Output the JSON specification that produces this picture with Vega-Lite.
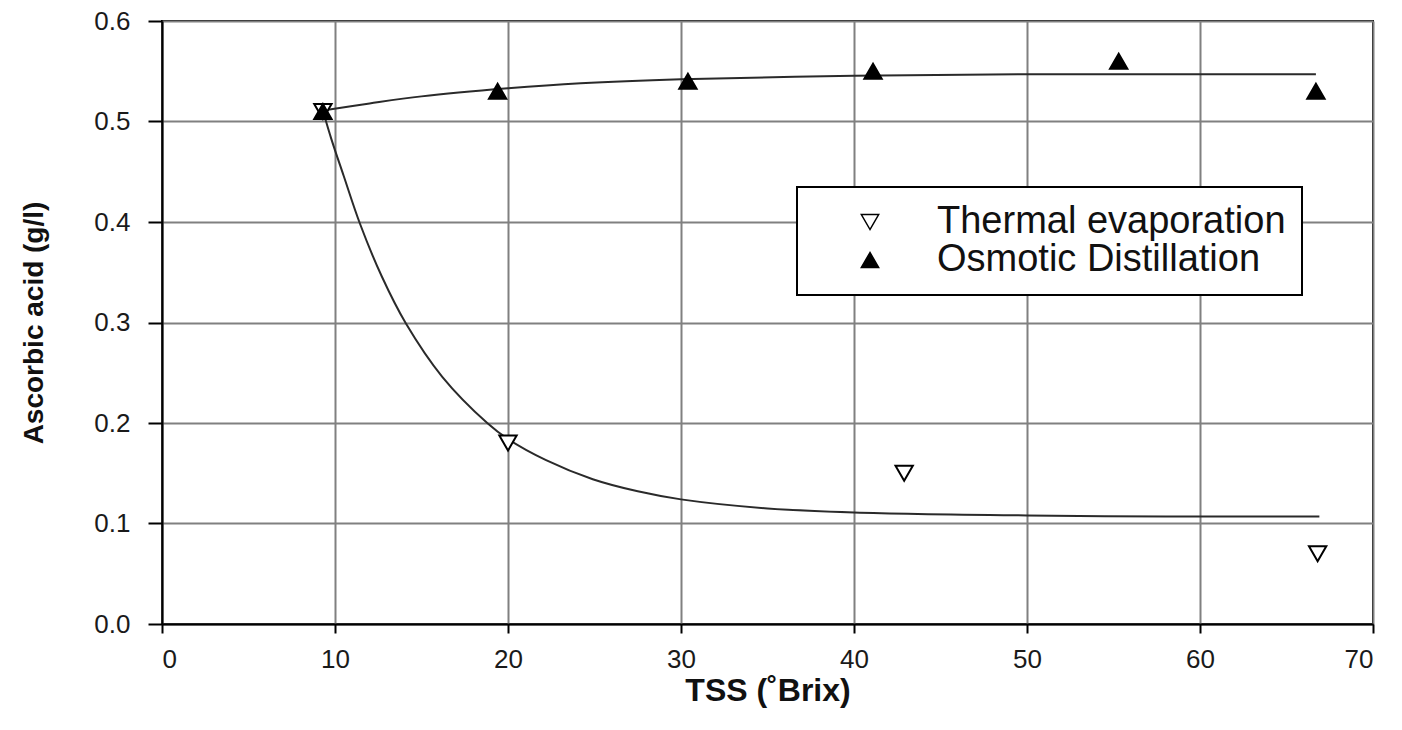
{
  "$schema": "https://vega.github.io/schema/vega-lite/v6.json",
  "width": 1211,
  "height": 603,
  "autosize": {"type": "none"},
  "padding": {"left": 162, "top": 21, "right": 29, "bottom": 106},
  "background": "white",
  "config": {
    "font": "Liberation Sans",
    "view": {"stroke": "black", "strokeWidth": 2},
    "legend": {"strokeWidth": 2},
    "axis": {
      "grid": true,
      "gridColor": "#808080",
      "gridWidth": 2,
      "gridOpacity": 1,
      "domainColor": "black",
      "domainWidth": 2,
      "tickColor": "black",
      "tickWidth": 2,
      "labelFont": "Liberation Sans",
      "labelFontSize": 26,
      "labelColor": "#1a1a1a",
      "titleFont": "Liberation Sans",
      "titleFontWeight": "bold",
      "titleColor": "#111111"
    }
  },
  "layer": [
    {
      "data": {
        "values": [
          {"series": "Thermal evaporation", "tss": 9.3, "aa": 0.511},
          {"series": "Thermal evaporation", "tss": 9.8, "aa": 0.482},
          {"series": "Thermal evaporation", "tss": 10.5, "aa": 0.446},
          {"series": "Thermal evaporation", "tss": 11.45, "aa": 0.398},
          {"series": "Thermal evaporation", "tss": 12.7, "aa": 0.346},
          {"series": "Thermal evaporation", "tss": 14.1, "aa": 0.299},
          {"series": "Thermal evaporation", "tss": 16.2, "aa": 0.246},
          {"series": "Thermal evaporation", "tss": 18.8, "aa": 0.2},
          {"series": "Thermal evaporation", "tss": 20, "aa": 0.184},
          {"series": "Thermal evaporation", "tss": 22.2, "aa": 0.163},
          {"series": "Thermal evaporation", "tss": 24.9, "aa": 0.144},
          {"series": "Thermal evaporation", "tss": 27.5, "aa": 0.132},
          {"series": "Thermal evaporation", "tss": 30, "aa": 0.124},
          {"series": "Thermal evaporation", "tss": 35, "aa": 0.115},
          {"series": "Thermal evaporation", "tss": 40, "aa": 0.111},
          {"series": "Thermal evaporation", "tss": 50, "aa": 0.108},
          {"series": "Thermal evaporation", "tss": 58, "aa": 0.107},
          {"series": "Thermal evaporation", "tss": 66.9, "aa": 0.107},
          {"series": "Osmotic Distillation", "tss": 9.3, "aa": 0.511},
          {"series": "Osmotic Distillation", "tss": 12, "aa": 0.518},
          {"series": "Osmotic Distillation", "tss": 15, "aa": 0.525},
          {"series": "Osmotic Distillation", "tss": 20, "aa": 0.533},
          {"series": "Osmotic Distillation", "tss": 24.2, "aa": 0.538},
          {"series": "Osmotic Distillation", "tss": 30, "aa": 0.542},
          {"series": "Osmotic Distillation", "tss": 40, "aa": 0.5455},
          {"series": "Osmotic Distillation", "tss": 50, "aa": 0.547},
          {"series": "Osmotic Distillation", "tss": 60, "aa": 0.547},
          {"series": "Osmotic Distillation", "tss": 66.7, "aa": 0.547}
        ]
      },
      "mark": {"type": "line", "interpolate": "catmull-rom", "color": "#2a2a2a", "strokeWidth": 2},
      "encoding": {
        "x": {
          "field": "tss", "type": "quantitative",
          "scale": {"domain": [0, 70], "nice": false, "zero": false},
          "axis": {
            "values": [0, 10, 20, 30, 40, 50, 60, 70],
            "format": "d",
            "tickSize": 9,
            "labelPadding": 13,
            "title": "TSS (˚Brix)",
            "titleFontSize": 32,
            "titlePadding": 3
          }
        },
        "y": {
          "field": "aa", "type": "quantitative",
          "scale": {"domain": [0, 0.6], "nice": false, "zero": false},
          "axis": {
            "values": [0, 0.1, 0.2, 0.3, 0.4, 0.5, 0.6],
            "format": ".1f",
            "tickSize": 14,
            "labelPadding": 18,
            "title": "Ascorbic acid (g/l)",
            "titleFontSize": 28,
            "titlePadding": 45
          }
        },
        "detail": {"field": "series"}
      }
    },
    {
      "data": {
        "values": [
          {"series": "Thermal evaporation", "tss": 9.3, "aa": 0.51},
          {"series": "Thermal evaporation", "tss": 20, "aa": 0.18},
          {"series": "Thermal evaporation", "tss": 42.9, "aa": 0.15},
          {"series": "Thermal evaporation", "tss": 66.8, "aa": 0.07},
          {"series": "Osmotic Distillation", "tss": 9.3, "aa": 0.51},
          {"series": "Osmotic Distillation", "tss": 19.4, "aa": 0.53},
          {"series": "Osmotic Distillation", "tss": 30.4, "aa": 0.54},
          {"series": "Osmotic Distillation", "tss": 41.1, "aa": 0.55},
          {"series": "Osmotic Distillation", "tss": 55.3, "aa": 0.56},
          {"series": "Osmotic Distillation", "tss": 66.7, "aa": 0.53}
        ]
      },
      "mark": {"type": "point", "filled": true, "stroke": "black", "strokeWidth": 2, "size": 300, "opacity": 1},
      "encoding": {
        "x": {"field": "tss", "type": "quantitative"},
        "y": {"field": "aa", "type": "quantitative"},
        "shape": {
          "field": "series", "type": "nominal",
          "scale": {"domain": ["Thermal evaporation", "Osmotic Distillation"], "range": ["triangle-down", "triangle-up"]},
          "legend": {
            "title": null, "orient": "none", "legendX": 635, "legendY": 166,
            "strokeColor": "black", "fillColor": "white",
            "padding": 16, "symbolOffset": 38, "labelOffset": 48, "labelLimit": 800,
            "labelFontSize": 38, "labelFont": "Liberation Sans", "labelColor": "#111111",
            "symbolSize": 300, "rowPadding": -4,
            "encode": {"symbols": {"update": {"stroke": {"value": "black"}, "strokeWidth": {"value": 2}, "opacity": {"value": 1}}}}
          }
        },
        "fill": {
          "field": "series", "type": "nominal",
          "scale": {"domain": ["Thermal evaporation", "Osmotic Distillation"], "range": ["white", "black"]},
          "legend": {
            "title": null, "orient": "none", "legendX": 635, "legendY": 166,
            "strokeColor": "black", "fillColor": "white",
            "padding": 16, "symbolOffset": 38, "labelOffset": 48, "labelLimit": 800,
            "labelFontSize": 38, "labelFont": "Liberation Sans", "labelColor": "#111111",
            "symbolSize": 300, "rowPadding": -4,
            "encode": {"symbols": {"update": {"stroke": {"value": "black"}, "strokeWidth": {"value": 2}, "opacity": {"value": 1}}}}
          }
        }
      }
    }
  ]
}
